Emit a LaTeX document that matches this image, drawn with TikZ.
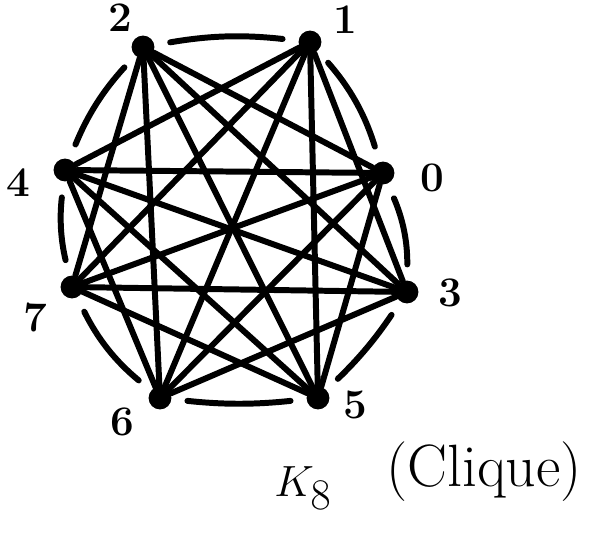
\documentclass[tikz,border=0pt]{standalone}
\usepackage{tikz}
\usetikzlibrary{positioning, calc}

\tikzset{
  vertex/.style={circle, fill=black, inner sep=0pt, minimum size=13pt},
  vlabel/.style={font=\fontsize{24}{28}\selectfont\bfseries},
  edge/.style={line width=3.4pt, line cap=round},
  rim/.style={line width=3.4pt, line cap=round, shorten >=9pt, shorten <=9pt}
}

\begin{document}
\begin{tikzpicture}[x=0.02cm, y=-0.02cm]
    \useasboundingbox (0,0) rectangle (589,533);

    % Vertices
    \node[vertex] (v2) at (143,47) {};
    \node[vertex] (v1) at (310,42) {};
    \node[vertex] (v0) at (383,173) {};
    \node[vertex] (v3) at (407,292) {};
    \node[vertex] (v5) at (318,398) {};
    \node[vertex] (v6) at (160,398) {};
    \node[vertex] (v7) at (72,287) {};
    \node[vertex] (v4) at (65,170) {};

    % Vertex labels
    \node[vlabel] (l2) at (120,18) {2};
    \node[vlabel] (l1) at (345,20) {1};
    \node[vlabel] (l0) at (432,178) {0};
    \node[vlabel] (l3) at (450,293) {3};
    \node[vlabel] (l5) at (355,405) {5};
    \node[vlabel] (l6) at (122,422) {6};
    \node[vlabel] (l7) at (35,318) {7};
    \node[vlabel] (l4) at (18,183) {4};

    % Outer cycle
    \draw[rim, bend left=8] (v2) to (v1);
    \draw[rim, bend left=12] (v1) to (v0);
    \draw[rim, bend left=12] (v0) to (v3);
    \draw[rim, bend left=6] (v3) to (v5);
    \draw[rim, bend left=6] (v5) to (v6);
    \draw[rim, bend left=12] (v6) to (v7);
    \draw[rim, bend left=10] (v7) to (v4);
    \draw[rim, bend left=10] (v4) to (v2);

    % Chords
    \foreach \a/\b in {v2/v0, v2/v3, v2/v5, v2/v6, v2/v7,
                       v1/v3, v1/v5, v1/v6, v1/v7, v1/v4,
                       v0/v5, v0/v6, v0/v7, v0/v4,
                       v3/v6, v3/v7, v3/v4,
                       v5/v7, v5/v4,
                       v6/v4}
        \draw[edge] (\a) -- (\b);

    % Caption
    \node[font=\fontsize{34}{40}\selectfont] (kname) at (303,488) {$K_8$};
    \node[font=\fontsize{34}{40}\selectfont] (clique) at (484,472) {(Clique)};
\end{tikzpicture}
\end{document}
